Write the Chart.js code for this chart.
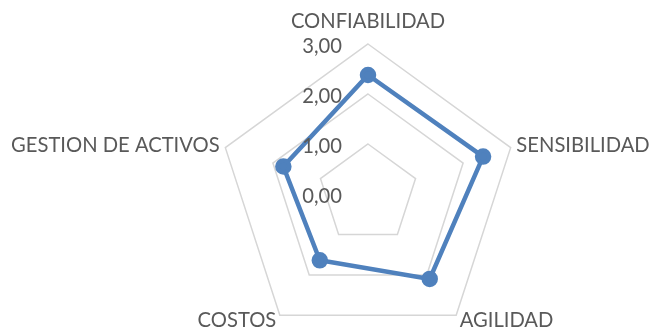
<!DOCTYPE html>
<html>
<head>
<meta charset="utf-8">
<script src="https://cdn.jsdelivr.net/npm/chart.js@4/dist/chart.umd.min.js"></script>
<style>
    html, body { margin: 0; padding: 0; width: 652px; height: 328px; overflow: hidden; background: #fff; }
    #wrap { position: relative; width: 652px; height: 388px; }
</style>
</head>
<body>
<div id="wrap"><canvas id="radar"></canvas></div>
<script>
const categories = ['CONFIABILIDAD', 'SENSIBILIDAD', 'AGILIDAD', 'COSTOS', 'GESTION DE ACTIVOS'];
const scores = [2.38, 2.42, 2.10, 1.64, 1.78];
const tickValues = [0, 1, 2, 3];

const TEXT_COLOR = '#595959';
const FONT = '20.2px Lato, "Open Sans", sans-serif';

document.addEventListener('DOMContentLoaded', initialize);

function initialize() {
    const ctx = document.getElementById('radar').getContext('2d');
    new Chart(ctx, {
        type: 'radar',
        data: {
            labels: categories,
            datasets: [{
                data: scores,
                borderColor: '#4f81bd',
                backgroundColor: '#4f81bd',
                borderWidth: 4.5,
                pointRadius: 6,
                pointHoverRadius: 6,
                fill: false,
            }]
        },
        options: {
            responsive: true,
            maintainAspectRatio: false,
            animation: false,
            layout: { padding: { left: 218, right: 134, top: 44, bottom: 44 } },
            plugins: { legend: { display: false }, tooltip: { enabled: false } },
            scales: {
                r: {
                    min: tickValues[0],
                    max: tickValues[tickValues.length - 1],
                    ticks: { stepSize: 1, display: false },
                    grid: { color: '#d6d6d6', lineWidth: 1.5 },
                    angleLines: { display: false },
                    pointLabels: { display: false },
                }
            }
        },
        plugins: [axisText]
    });
}

// value labels left of the top axis, category names outside each corner
const axisText = {
    id: 'axisText',
    afterDatasetsDraw(chart) {
        const scale = chart.scales.r;
        const c = chart.ctx;
        c.save();
        c.font = FONT;
        c.fillStyle = TEXT_COLOR;

        c.textAlign = 'right';
        c.textBaseline = 'middle';
        tickValues.forEach(v => {
            const y = scale.yCenter - scale.getDistanceFromCenterForValue(v);
            c.fillText(v.toFixed(2).replace('.', ','), scale.xCenter - 26, y + 2);
        });

        const outer = scale.drawingArea;
        categories.forEach((name, i) => {
            const p = scale.getPointPosition(i, outer + 6);
            if (i === 0) {
                c.textAlign = 'center';
                c.textBaseline = 'bottom';
                c.fillText(name, p.x, p.y - 6);
            } else {
                c.textAlign = p.x > scale.xCenter ? 'left' : 'right';
                c.textBaseline = 'middle';
                c.fillText(name, p.x, p.y);
            }
        });
        c.restore();
    }
};
</script>
</body>
</html>
